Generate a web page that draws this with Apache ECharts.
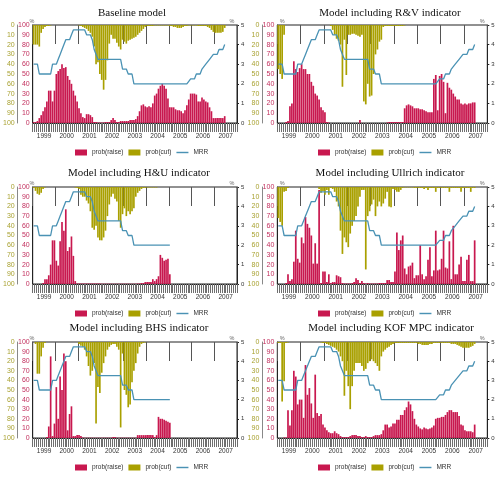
<!DOCTYPE html>
<html><head><meta charset="utf-8">
<script src="https://cdn.jsdelivr.net/npm/echarts@6/dist/echarts.min.js"></script>
<style>html,body{margin:0;padding:0;background:#fff}#c{width:504px;height:480px}</style>
</head><body><div id="c"></div>
<script>
const years = ['1999','2000','2001','2002','2003','2004','2005','2006','2007'];
const monthNames = ['01','02','03','04','05','06','07','08','09','10','11','12'];
const months = [];
years.forEach(y => monthNames.forEach(m => months.push(y + '-' + m)));

const mrr = [3,3,3,2.5,2.5,2.5,2.5,2.5,2.5,2.5,3,3,
  3,3.25,3.5,3.75,3.75,4.25,4.25,4.25,4.5,4.75,4.75,4.75,
  4.75,4.75,4.75,4.75,4.5,4.5,4.5,4.25,3.75,3.75,3.25,3.25,
  3.25,3.25,3.25,3.25,3.25,3.25,3.25,3.25,3.25,3.25,3.25,2.75,
  2.75,2.75,2.5,2.5,2.5,2,2,2,2,2,2,2,
  2,2,2,2,2,2,2,2,2,2,2,2,
  2,2,2,2,2,2,2,2,2,2,2,2.25,
  2.25,2.25,2.5,2.5,2.5,2.75,2.75,3,3,3.25,3.25,3.5,
  3.5,3.5,3.75,3.75,3.75,4];

const baselineRaise = [1,1,2,5,8,12,16,22,33,33,22,33, 50,53,55,60,56,57,48,44,40,33,28,22, 15,10,6,5,9,9,8,6,1,1,0.5,0.5, 0.5,0.5,1,1,1,3,5,3,1,1,2,2, 2,2,2,3,3,3,4,7,12,18,19,17, 16,17,16,20,28,30,35,38,40,38,35,25, 16,16,16,14,13,13,12,10,13,18,24,30, 30,30,29,22,22,26,24,22,21,16,12,5, 5,5,5,5,5,7];
const baselineCut = [20,20,20,22,8,4,2,1,1,0.5,0,0, 0,0,0,0,0,0,0,0,0,0,0,0, 0.5,1,2,3,4,6,8,12,22,40,38,50, 56,66,56,36,19,10,14,14,18,22,25,15, 17,19,16,15,14,13,12,10,8,6,4,2, 1,1,1,1,0.5,0.5,0.5,0.5,0.5,0.5,0.5,0.5, 1,1,2,2,3,3,3,2,1,1,0.5,0.5, 0.5,0.5,0.5,1,1,1,1,1,2,3,5,7, 8,8,8,8,7,3];

const rvRaise = [0,0,0,0,1,2,17,20,63,55,52,56, 60,55,55,50,50,42,38,30,28,24,16,13, 11,1,0.5,0,0,0,0,0,0,0,0,0, 0,0,0,0,0,0,3,0,0,0,0,0, 0,0,0,0,0,0,0,0,0.5,1,1,1, 1,1,1,1,1,15,18,19,18,17,15,15, 15,14,14,13,12,11,11,11,45,49,13,48, 50,42,10,41,36,34,30,27,24,24,20,19, 20,19,20,20,21,21];
const rvCut = [45,50,55,10,0,0,0,0,0,0,0,0, 0,0,0,0,0,0,0,0,0,0,0,0, 0,0,0,1,5,10,14,16,20,63,15,51, 10,10,9,9,10,11,12,10,78,81,60,73, 72,50,30,25,17,15,2,1,1,1,1,1, 1,1,1,1,1,0.5,0,0,0,0,0,0, 0,0,0,0,0,0,0,0,0,0,0,0, 0,0,0,0,0,0,0,0,0,0,0,0, 0,0,0,0,0,0];

const huRaise = [0,0,0,0,0,1,5,5,9,20,45,45, 24,19,44,64,55,77,34,38,49,29,3,0.5, 0.5,0.5,0.5,0.5,0.5,0.5,0.5,0.5,0.5,0.5,0.5,0.5, 0.3,0.3,0.3,0.3,0.3,0.3,0.3,0.3,0.3,0.3,0.3,0.3, 0.3,0.3,0.3,0.3,0.3,0.3,0.3,0.5,0.5,1,1,2, 2,2,2,5,3,5,8,30,27,24,25,26, 10];
const huCut = [1,4,7,8,6,2,0.5,0,0,0,0,0, 0,0,0,0,0,0,0,0,0,0,0.5,1, 2,8,10,10,14,17,25,42,44,40,52,55, 55,52,45,30,18,10,7,12,15,35,42,28, 22,30,25,28,25,22,10,6,4,2,1,1, 0.5,0.5,0.5,0.5,0.5,0.5,0,0,0,0,0,0, 0];

const ullRaise = [0,0,0,0,1,10,3,5,23,55,26,22, 48,42,69,62,58,50,21,42,21,97,1,13, 13,2,10,1,2,2,9,8,7,1,0.5,0.5, 0.5,0.5,1,2,6,4,1,3,1,0.5,1,0.5, 0.5,0.5,0.5,0.5,1,1,1,1,4,4,2,2, 13,53,35,45,50,16,10,18,19,22,6,9, 9,40,10,5,8,25,38,8,14,55,14,15, 26,55,17,16,44,5,60,10,10,20,28,3, 3,25,30,3,3,45];
const ullCut = [32,36,40,5,4,1,0,0,0,0,0,0, 0,0,0,0,0,0,0,0,0,2,6,4, 8,3,8,1,2,5,15,20,45,69,52,57, 62,48,40,35,30,20,10,3,3,85,30,25, 18,13,30,20,15,20,17,12,5,20,21,2, 3,5,5,3,1,0.5,0.5,0.5,0.5,0.5,1,1, 1,1,1,2,1,3,1,1,1,5,1,1, 1,1,1,1,5,1,1,1,1,1,5,1, 1,1,1,5,1,1];

const bhsRaise = [0,0,0,0,0,0,0,1,12,85,2,15, 53,20,64,50,88,80,8,25,33,2,2,3, 3,2,0.5,0.3,0.3,0.3,0.3,0.3,0.3,0.3,0.3,0.3, 0.3,0.3,0.3,0.3,0.3,0.3,1,1,0.3,0.3,0.3,0.3, 0.3,0.3,0.3,0.3,0.3,0.3,0.3,3,3,3,3,3, 3,3,3,3,1,3,22,20,20,19,18,17, 16];
const bhsCut = [0,2,33,33,15,6,1,0,0,0,0,0, 0,0,0,0,0,0,0,0,0,0,0,0, 2,4,5,8,15,25,35,30,22,85,47,53, 32,22,15,8,5,3,2,2,5,8,89,12, 50,55,68,65,42,30,22,12,5,2,1,0.5, 0,0,0,0,0,0,0,0,0,0,0,0, 0];

const kofRaise = [0,0,0,0.5,0.5,29,13,29,70,64,35,40, 40,21,76,45,52,36,21,66,26,23,25,14, 11,8,6,5,5,7,5,4,2,1,1,1, 1,2,3,3,3,2,2,1,1,2,1,1, 1,2,3,3,3,4,8,14,14,11,12,15, 15,19,19,24,24,29,32,38,35,28,20,14, 12,10,9,11,10,9,10,11,13,20,21,21, 22,22,24,27,29,29,27,27,27,23,14,13, 8,7,7,7,6,14];
const kofCut = [1,1,62,41,1,0.5,0,0,0,0,0,0, 0,0,0,0,0,0,0,0,0,0,0.5,1, 1,2,3,4,5,6,8,10,15,20,56,30, 46,70,46,30,22,22,22,25,30,28,22,20, 18,20,22,25,30,15,10,8,6,5,3,2, 1,1,1,1,1,1,1,1,1,1,1,1, 2,2,3,3,3,3,2,2,1,1,1,1, 1,1,1,1,1,2,2,2,3,4,5,6, 6,6,6,5,4,2];

const panels = [
  {title:'Baseline model', raise: baselineRaise, cut: baselineCut, tx: 132},
  {title:'Model including R&V indicator', raise: rvRaise, cut: rvCut, tx: 390},
  {title:'Model including H&U indicator', raise: huRaise, cut: huCut, tx: 139},
  {title:'Model including Ullrich indicator', raise: ullRaise, cut: ullCut, tx: 390},
  {title:'Model including BHS indicator', raise: bhsRaise, cut: bhsCut, tx: 139},
  {title:'Model including KOF MPC indicator', raise: kofRaise, cut: kofCut, tx: 391}
];

const colLeft = [27, 277.3];
const rowTop = [25, 187, 342];
const rowH = [98, 97, 96];
const titleY = [12.7, 173.3, 328.3];
const legendLeft = [70, 313];
const W = 210;

const RAISE = '#c8184f', CUT = '#a9a000', LINE = '#4a92b4';
const FONT = 'Liberation Sans, Arial, sans-serif';
const LINE_ICON = 'path://M0,0 L30,0 L30,3.6 L0,3.6 Z';

const grid = [], xAxis = [], yAxis = [], series = [], legend = [], graphic = [];
panels.forEach((p, i) => {
  const col = i % 2, row = Math.floor(i / 2);
  const L = colLeft[col], T = rowTop[row], H = rowH[row];
  grid.push({left: L, top: T, width: W, height: H, show: true, borderColor: '#222', borderWidth: 1, backgroundColor: 'rgba(0,0,0,0)'});
  xAxis.push({type: 'category', gridIndex: i, data: months, position: 'bottom', boundaryGap: true,
    axisLine: {show: true, lineStyle: {color: '#222', width: 1}},
    axisTick: {show: true, interval: 0, length: 9, lineStyle: {color: '#6e6e6e', width: 1}},
    axisLabel: {show: false}, splitLine: {show: false}});
  xAxis.push({type: 'category', gridIndex: i, data: years, position: 'bottom', boundaryGap: true,
    axisLine: {show: false},
    axisTick: {show: true, interval: 0, length: 19, lineStyle: {color: '#555', width: 1}},
    axisLabel: {show: true, interval: 0, margin: 10, fontSize: 6.5, color: '#333', fontFamily: FONT},
    splitLine: {show: false}});
  yAxis.push({type: 'value', gridIndex: i, position: 'left', min: 0, max: 100, interval: 10,
    axisLine: {show: true, lineStyle: {color: '#222'}}, axisTick: {show: false},
    axisLabel: {fontSize: 7, color: '#c2305e', margin: 3, fontFamily: FONT}, splitLine: {show: false}});
  yAxis.push({type: 'value', gridIndex: i, position: 'left', offset: 15, inverse: true, min: 0, max: 100, interval: 10,
    axisLine: {show: true, lineStyle: {color: '#888'}}, axisTick: {show: false},
    axisLabel: {fontSize: 7, color: '#a9a232', margin: 3, fontFamily: FONT}, splitLine: {show: false}});
  yAxis.push({type: 'value', gridIndex: i, position: 'right', min: 0, max: 5, interval: 1,
    axisLine: {show: true, lineStyle: {color: '#222'}}, axisTick: {show: true, length: 2, lineStyle: {color: '#222'}},
    axisLabel: {fontSize: 6, color: '#333', margin: 4, fontFamily: FONT}, splitLine: {show: false}});
  series.push({name: 'prob(raise)', type: 'bar', xAxisIndex: 2 * i, yAxisIndex: 3 * i, data: p.raise,
    itemStyle: {color: RAISE}, barCategoryGap: '12%', barGap: '-100%', silent: true});
  series.push({name: 'prob(cut)', type: 'bar', xAxisIndex: 2 * i, yAxisIndex: 3 * i + 1, data: p.cut,
    itemStyle: {color: CUT}, barCategoryGap: '12%', barGap: '-100%', silent: true});
  series.push({name: 'MRR', type: 'line', xAxisIndex: 2 * i, yAxisIndex: 3 * i + 2, data: mrr.slice(0, p.raise.length),
    symbol: 'none', lineStyle: {color: LINE, width: 1.3}, itemStyle: {color: LINE}, silent: true, z: 5});
  legend.push({left: legendLeft[col], top: T + H + 21, itemWidth: 12, itemHeight: 6, itemGap: 5,
    textStyle: {fontSize: 6.5, color: '#333', fontFamily: FONT}, selectedMode: false, symbolKeepAspect: true,
    data: [{name: 'prob(raise)', icon: 'rect'}, {name: 'prob(cut)', icon: 'rect'},
           {name: 'MRR', icon: LINE_ICON, itemStyle: {color: LINE}}]});
  graphic.push({type: 'text', x: p.tx, y: titleY[row], style: {text: p.title, fill: '#111',
    font: '11px "Liberation Serif", "Times New Roman", serif', textAlign: 'center', textVerticalAlign: 'middle'}});
  graphic.push({type: 'text', x: L + 5, y: T - 4, style: {text: '%', fill: '#666', font: '5.5px ' + FONT, textAlign: 'center', textVerticalAlign: 'middle'}});
  graphic.push({type: 'text', x: L + W - 5, y: T - 4, style: {text: '%', fill: '#666', font: '5.5px ' + FONT, textAlign: 'center', textVerticalAlign: 'middle'}});
});

const chart = echarts.init(document.getElementById('c'), null, {renderer: 'canvas'});
chart.setOption({animation: false, textStyle: {fontFamily: FONT}, grid, xAxis, yAxis, series, legend, graphic});
</script></body></html>
